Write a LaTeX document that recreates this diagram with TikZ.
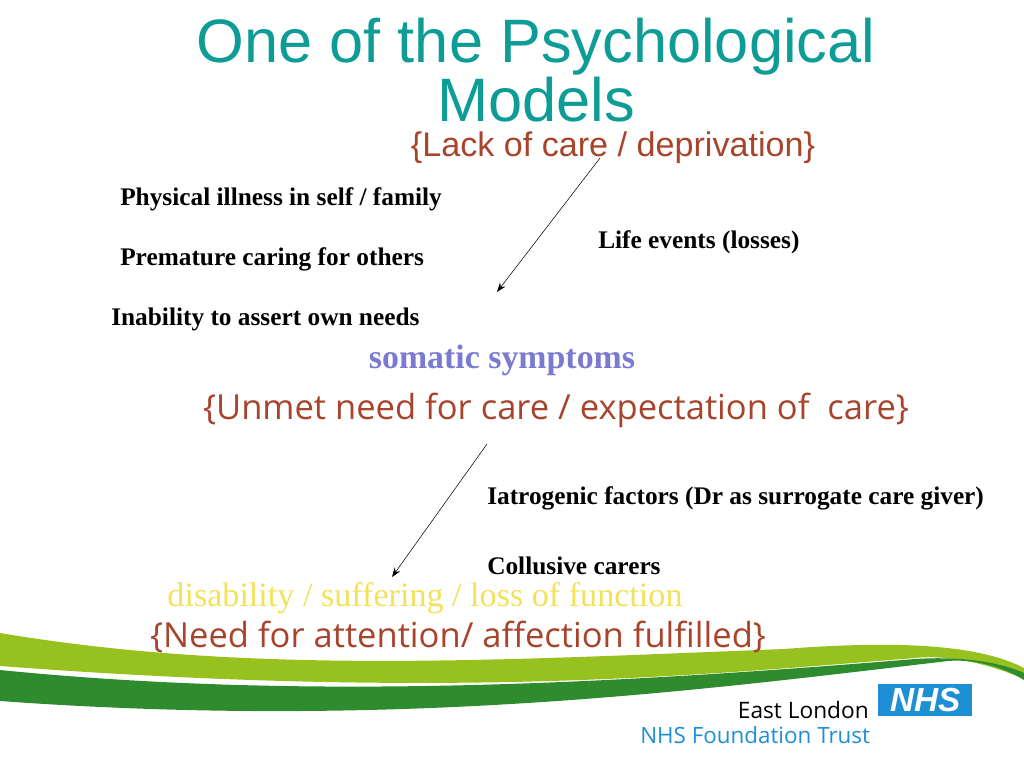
\documentclass[tikz,border=0pt]{standalone}
\usepackage{fontspec}
\setmainfont{Liberation Serif}
\newfontfamily\lsans{Liberation Sans}
\newfontfamily\osans{Open Sans}
\usetikzlibrary{arrows.meta}
\begin{document}
\begin{tikzpicture}[x=0.75pt,y=-0.75pt]
\definecolor{teal1}{HTML}{0E9C96}
\definecolor{brown1}{HTML}{A8442C}
\definecolor{violet1}{HTML}{7A7AD0}
\definecolor{yell}{HTML}{F2E25A}
\definecolor{lgreen}{HTML}{96C11F}
\definecolor{dgreen}{HTML}{2E8B2E}
\definecolor{nhsblue}{HTML}{1E8FD5}
\tikzset{lab/.style={font=\bfseries\fontsize{19}{22}\selectfont,anchor=west,inner sep=0},
 arr/.style={-{Stealth[length=7pt,width=5pt]},thin}}
\useasboundingbox (0,0) rectangle (1024,768);
% swoosh
\fill[lgreen] (0,633) .. controls (250,675) and (500,660) .. (784,649) .. controls (900,640) and (980,645) .. (1024,668)
 -- (1024,679) .. controls (980,660) and (940,655) .. (915,658) .. controls (700,675) and (450,700) .. (0,666) -- cycle;
\fill[dgreen] (0,670) .. controls (300,700) and (600,685) .. (915,659) .. controls (960,656) and (1000,662) .. (1024,673)
 -- (1024,680) .. controls (1000,665) and (970,659) .. (948,661) .. controls (700,690) and (400,730) .. (0,701) -- cycle;
% title
\node[font=\lsans\fontsize{46}{41}\selectfont,text=teal1,align=center,inner sep=0] (t) at (536,70) {One of the Psychological\\Models};
\node[font=\lsans\fontsize{25.6}{27}\selectfont,text=brown1,inner sep=0] (lack) at (613,148) {\{Lack of care / deprivation\}};
\node[lab] (p1) at (120,199) {Physical illness in self / family};
\node[lab] (p2) at (120,259) {Premature caring for others};
\node[lab] (p3) at (111,319) {Inability to assert own needs};
\node[lab] (le) at (598,242) {Life events (losses)};
\node[font=\bfseries\fontsize{25.4}{26}\selectfont,text=violet1,inner sep=0] (som) at (502,360) {somatic symptoms};
\node[font=\osans\fontsize{25.9}{27}\selectfont,text=brown1,inner sep=0] (un) at (556,410) {\{Unmet need for care / expectation of~ care\}};
\node[lab] (ia) at (487,498) {Iatrogenic factors (Dr as surrogate care giver)};
\node[lab] (cc) at (487,566) {Collusive carers};
\node[font=\fontsize{25.6}{26}\selectfont,text=yell,inner sep=0] (dis) at (425,598) {disability / suffering / loss of function};
\node[font=\osans\fontsize{25.9}{27}\selectfont,text=brown1,inner sep=0] (need) at (458,637) {\{Need for attention/ affection fulfilled\}};
\coordinate (a1s) at (600,158); \coordinate (a1e) at (497,292);
\coordinate (a2s) at (487,444); \coordinate (a2e) at (392,577);
\draw[arr] (a1s) -- (a1e);
\draw[arr] (a2s) -- (a2e);
% logo
\node[font=\osans\fontsize{17}{17}\selectfont,anchor=east,inner sep=0] (el) at (869,710) {East London};
\node[fill=nhsblue,minimum width=70.5pt,minimum height=24pt,inner sep=0,anchor=north west,text=white,font=\lsans\bfseries\itshape\fontsize{25}{25}\selectfont] (nhs) at (878,684) {NHS};
\node[font=\osans\fontsize{16.8}{17}\selectfont,text=nhsblue,anchor=west,inner sep=0] (ft) at (640,735) {NHS Foundation Trust};
\end{tikzpicture}
\end{document}
